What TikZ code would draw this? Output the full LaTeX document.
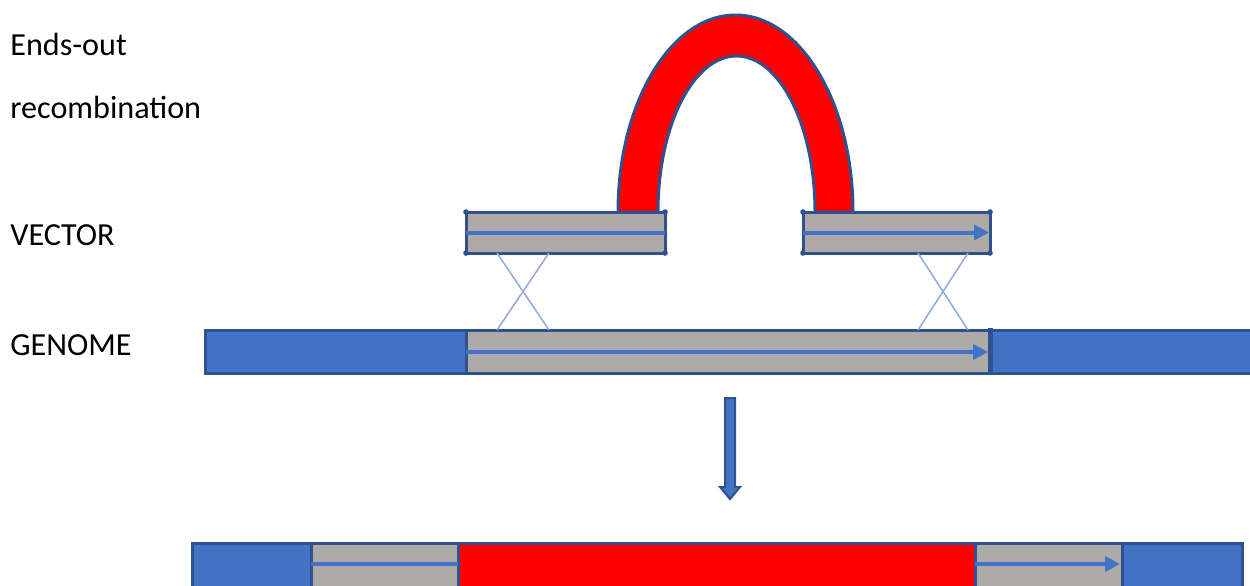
\documentclass[tikz,border=0pt]{standalone}
\usepackage{fontspec}
\setmainfont{Carlito}
\usepackage{xcolor}
\usepackage{tikz}
\usetikzlibrary{arrows.meta}
\definecolor{geneblue}{HTML}{4472C4}
\definecolor{edgeblue}{HTML}{2F528F}
\definecolor{armgray}{HTML}{AEAAAA}
\definecolor{xover}{HTML}{8FAADC}
\tikzset{
  lbl/.style={font=\fontsize{18.3}{21}\selectfont,anchor=base west,inner sep=0pt},
  arm/.style={fill=armgray,draw=edgeblue,line width=0.06cm},
  edge/.style={draw=edgeblue,line width=0.06cm},
  strand/.style={geneblue,line width=0.08cm},
  cross/.style={xover,line width=0.03cm}
}

\begin{document}
\begin{tikzpicture}[x=0.02cm,y=-0.02cm,>={Triangle[length=0.3cm,width=0.3cm]}]
  \useasboundingbox (0,0) rectangle (1250,585);
  \node[lbl] (ttla) at (10,55)  {Ends-out};
  \node[lbl] (ttlb) at (10,118) {recombination};
  \node[lbl] (vec)  at (10,245) {VECTOR};
  \node[lbl] (gen)  at (10,355) {GENOME};
  \coordinate (VL1) at (466,212); \coordinate (VL2) at (665,253);
  \coordinate (VR1) at (803,212); \coordinate (VR2) at (990,253);
  \fill[red,draw=edgeblue,line width=0.06cm] (618,212) .. controls (618,103.3) and (670.6,15) .. (735.5,15)
    .. controls (800.4,15) and (853,103.3) .. (853,212) -- (815,212)
    .. controls (815,125.9) and (779.7,56) .. (736.5,56)
    .. controls (693.2,56) and (658,125.9) .. (658,212) -- cycle;
  \draw[arm] (VL1) rectangle (VL2);
  \draw[arm] (VR1) rectangle (VR2);
  \draw[strand] (466,232.5) -- (665,232.5);
  \draw[strand,->] (803,232.5) -- (989,232.5);
  \foreach \x in {466,665,803,990} \foreach \y in {212,253} \fill[edgeblue] (\x,\y) circle (1.6pt);
  \fill[geneblue] (205,330) rectangle (1252,373);
  \fill[armgray] (466,330) rectangle (990,373);
  \draw[edge] (1252,330) -- (205,330) -- (205,373) -- (1252,373);
  \draw[edge] (466,330) -- (466,373);
  \draw[edgeblue,line width=0.1cm] (990,328) -- (990,373);
  \draw[strand,->] (466,352) -- (988,352);
  \coordinate (XA1) at (497,253); \coordinate (XA2) at (549,330);
  \coordinate (XB1) at (918,253); \coordinate (XB2) at (968,330);
  \draw[cross] (XA1) -- (XA2);
  \draw[cross] (XA1-|XA2) -- (XA2-|XA1);
  \draw[cross] (XB1) -- (XB2);
  \draw[cross] (XB1-|XB2) -- (XB2-|XB1);
  \fill[geneblue,draw=edgeblue,line width=0.04cm] (725,398) -- (735,398) -- (735,487) -- (740,487)
    -- (730,499) -- (720,487) -- (725,487) -- cycle;
  \fill[geneblue] (192,543) rectangle (1242,587);
  \fill[armgray] (311,543) rectangle (458,587);
  \fill[red] (458,543) rectangle (975,587);
  \fill[armgray] (975,543) rectangle (1122,587);
  \draw[edge] (192,543) rectangle (1242,587);
  \foreach \x in {311,458,975,1122} \draw[edge] (\x,543) -- (\x,587);
  \draw[strand] (311,564) -- (458,564);
  \draw[strand,->] (975,564) -- (1120,564);
\end{tikzpicture}
\end{document}
